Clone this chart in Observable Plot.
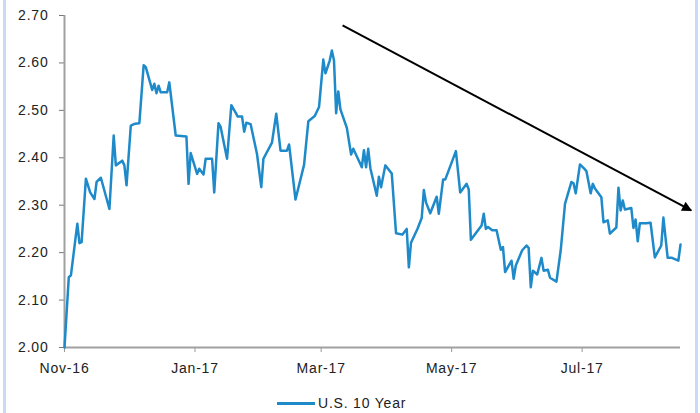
<!DOCTYPE html>
<html>
<head>
<meta charset="utf-8">
<script src="https://cdn.jsdelivr.net/npm/d3@7"></script>
<script src="https://cdn.jsdelivr.net/npm/@observablehq/plot@0.6"></script>
<style>
  html, body { margin: 0; padding: 0; background: #fff; }
  #wrap { position: relative; width: 700px; height: 413px; overflow: hidden; font-family: "Liberation Sans", Arial, sans-serif; }
  .border { position: absolute; top: 0; width: 3px; height: 413px; background: #c9dbf2; }
  #legend { position: absolute; left: 277px; top: 394px; height: 18px; display: flex; align-items: center; font-size: 14px; letter-spacing: 0.8px; color: #222; }
  #legend .sw { width: 38px; height: 3px; background: #1f8ac9; margin-right: 3px; }
</style>
</head>
<body>
<div id="wrap">
  <div class="border" style="left:3px"></div>
  <div class="border" style="left:695px"></div>
  <div id="chart"></div>
  <div id="legend"><span class="sw"></span><span id="legendText"></span></div>
</div>
<script>
const seriesName = "U.S. 10 Year";
const dates = [
"2016-11-01","2016-11-03","2016-11-04","2016-11-07","2016-11-08","2016-11-09","2016-11-11","2016-11-13","2016-11-15","2016-11-16",
"2016-11-18","2016-11-22","2016-11-24","2016-11-25","2016-11-28","2016-11-29","2016-11-30","2016-12-02","2016-12-04","2016-12-06",
"2016-12-08","2016-12-09","2016-12-12","2016-12-13","2016-12-14","2016-12-15","2016-12-16","2016-12-19","2016-12-20","2016-12-23",
"2016-12-28","2016-12-29","2016-12-30","2017-01-02","2017-01-03","2017-01-05","2017-01-06","2017-01-09","2017-01-10","2017-01-12",
"2017-01-13","2017-01-16","2017-01-18","2017-01-20","2017-01-21","2017-01-23","2017-01-24","2017-01-25","2017-01-27","2017-01-30",
"2017-02-01","2017-02-02","2017-02-06","2017-02-08","2017-02-10","2017-02-13","2017-02-14","2017-02-17","2017-02-21","2017-02-23",
"2017-02-26","2017-02-28","2017-03-02","2017-03-03","2017-03-05","2017-03-06","2017-03-07","2017-03-08","2017-03-09","2017-03-10",
"2017-03-13","2017-03-15","2017-03-16","2017-03-19","2017-03-20","2017-03-21","2017-03-22","2017-03-23","2017-03-24","2017-03-27",
"2017-03-28","2017-03-29","2017-03-31","2017-04-03","2017-04-05","2017-04-08","2017-04-10","2017-04-11","2017-04-12","2017-04-15",
"2017-04-17","2017-04-18","2017-04-19","2017-04-21","2017-04-24","2017-04-25","2017-04-27","2017-04-28","2017-05-03","2017-05-05",
"2017-05-08","2017-05-09","2017-05-10","2017-05-15","2017-05-16","2017-05-17","2017-05-18","2017-05-20","2017-05-22","2017-05-24",
"2017-05-25","2017-05-26","2017-05-29","2017-05-30","2017-05-31","2017-06-03","2017-06-05","2017-06-06","2017-06-07","2017-06-08",
"2017-06-10","2017-06-12","2017-06-13","2017-06-15","2017-06-16","2017-06-19","2017-06-21","2017-06-23","2017-06-26","2017-06-27",
"2017-06-28","2017-06-30","2017-07-02","2017-07-03","2017-07-05","2017-07-06","2017-07-07","2017-07-10","2017-07-11","2017-07-13",
"2017-07-14","2017-07-17","2017-07-18","2017-07-19","2017-07-20","2017-07-21","2017-07-24","2017-07-25","2017-07-26","2017-07-27",
"2017-07-28","2017-07-31","2017-08-02","2017-08-04","2017-08-07","2017-08-08","2017-08-10","2017-08-12","2017-08-15","2017-08-16"
];
const yields = [
2.000,2.148,2.152,2.261,2.220,2.222,2.356,2.327,2.313,2.349,
2.358,2.292,2.447,2.384,2.394,2.384,2.342,2.468,2.472,2.473,
2.595,2.591,2.543,2.556,2.536,2.552,2.538,2.538,2.559,2.447,
2.445,2.345,2.410,2.366,2.377,2.365,2.398,2.398,2.327,2.473,
2.465,2.398,2.511,2.495,2.487,2.487,2.455,2.474,2.471,2.408,
2.338,2.398,2.432,2.493,2.415,2.415,2.428,2.312,2.385,2.477,
2.488,2.507,2.607,2.578,2.605,2.626,2.605,2.494,2.540,2.502,
2.463,2.407,2.419,2.390,2.380,2.416,2.380,2.419,2.378,2.320,
2.360,2.338,2.384,2.367,2.241,2.238,2.250,2.169,2.221,2.250,
2.273,2.332,2.306,2.283,2.318,2.282,2.354,2.354,2.414,2.327,
2.345,2.333,2.227,2.257,2.282,2.250,2.254,2.247,2.247,2.206,
2.212,2.159,2.183,2.145,2.173,2.205,2.215,2.210,2.127,2.162,
2.154,2.189,2.162,2.164,2.147,2.139,2.205,2.303,2.349,2.346,
2.325,2.386,2.377,2.372,2.325,2.345,2.335,2.317,2.264,2.268,
2.240,2.253,2.337,2.289,2.310,2.291,2.294,2.252,2.270,2.224,
2.262,2.262,2.263,2.190,2.215,2.274,2.189,2.189,2.183,2.217
];
const xTickDates = ["2016-11-01","2017-01-01","2017-03-01","2017-05-01","2017-07-01"];
const yTicks = [2.00,2.10,2.20,2.30,2.40,2.50,2.60,2.70];
const xDomain = ["2016-11-01","2017-08-16"];
const yDomain = [2.0, 2.7];
// trend annotation (start/end in data space)
const trendDates = ["2017-03-11","2017-08-21"];
const trendValues = [2.679, 2.289];

const parse = d3.utcParse("%Y-%m-%d");
const data = dates.map((d, i) => ({date: parse(d), value: yields[i]}));
const trend = [{x1: parse(trendDates[0]), y1: trendValues[0], x2: parse(trendDates[1]), y2: trendValues[1]}];

const chart = Plot.plot({
  width: 700,
  height: 385,
  marginLeft: 64,
  marginRight: 20,
  marginTop: 15,
  marginBottom: 38,
  style: {fontFamily: '"Liberation Sans", Arial, sans-serif', fontSize: "14px", letterSpacing: "0.8px", color: "#222", background: "transparent", overflow: "visible"},
  x: {type: "utc", domain: xDomain.map(parse), label: null},
  y: {domain: yDomain, label: null},
  marks: [
    Plot.axisY({ticks: yTicks, tickFormat: d3.format(".2f"), tickSize: 5, tickPadding: 11, stroke: "#777", color: "#222", label: null}),
    Plot.axisX({ticks: xTickDates.map(parse), tickFormat: d3.utcFormat("%b-%y"), tickSize: 5, tickPadding: 11, stroke: "#999", color: "#222", label: null}),
    Plot.ruleY([yDomain[0]], {stroke: "#a0a0a0", strokeWidth: 2}),
    Plot.ruleX([parse(xDomain[0])], {y1: yDomain[0], y2: yDomain[1], stroke: "#a0a0a0", strokeWidth: 2}),
    Plot.line(data, {x: "date", y: "value", stroke: "#1f8ac9", strokeWidth: 2.5, strokeLinejoin: "round"}),
    Plot.link(trend, {x1: "x1", y1: "y1", x2: "x2", y2: "y2", stroke: "#000", strokeWidth: 2, clip: false})
  ]
});

// filled arrowhead for the trend link
const svg = d3.select(chart);
const defs = svg.insert("defs", ":first-child");
defs.append("marker")
  .attr("id", "trendHead")
  .attr("viewBox", "0 0 10 10")
  .attr("refX", 9).attr("refY", 5)
  .attr("markerWidth", 6).attr("markerHeight", 5)
  .attr("orient", "auto")
  .append("path").attr("d", "M0,0L10,5L0,10Z").attr("fill", "#000");
svg.selectAll('g[aria-label="link"] path').attr("marker-end", "url(#trendHead)");

document.getElementById("chart").appendChild(chart);
document.getElementById("legendText").textContent = seriesName;
</script>
</body>
</html>
